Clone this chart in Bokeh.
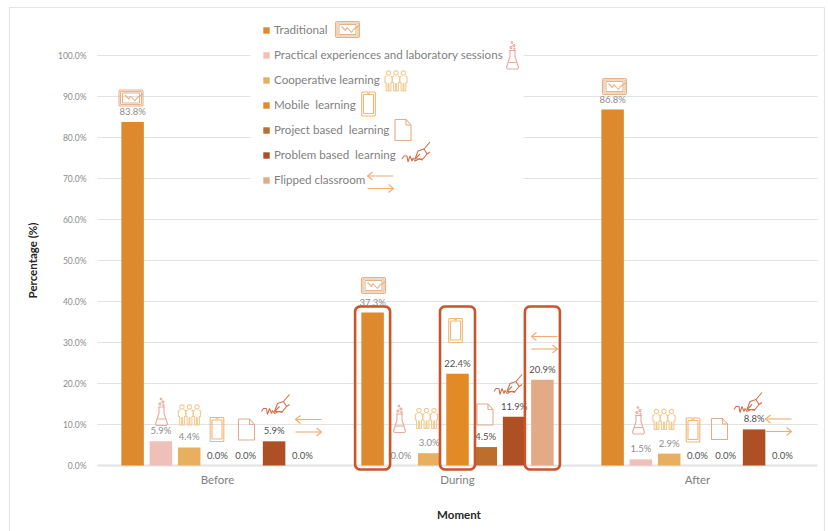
import math

from bokeh.core.properties import value
from bokeh.embed import file_html
from bokeh.models import (ColumnDataSource, FixedTicker, Legend, LegendItem,
                          NumeralTickFormatter, Range1d)
from bokeh.plotting import figure
from bokeh.resources import INLINE

# Survey results: share of each teaching method per moment
moments = ["Before", "During", "After"]
methods = ["Traditional", "Practical experiences and laboratory sessions",
           "Cooperative learning", "Mobile  learning", "Project based  learning",
           "Problem based  learning", "Flipped classroom"]
traditional = [83.8, 37.3, 86.8]
practical = [5.9, 0.0, 1.5]
cooperative = [4.4, 3.0, 2.9]
mobile = [0.0, 22.4, 0.0]
project = [0.0, 4.5, 0.0]
problem = [5.9, 11.9, 8.8]
flipped = [0.0, 20.9, 0.0]
series = [traditional, practical, cooperative, mobile, project, problem, flipped]
colors = ["#dd8a2e", "#eec0b8", "#e9af60", "#e28a25", "#bd6e2c", "#ae5024", "#e3ab85"]
y_ticks = [float(v) for v in range(0, 101, 10)]

# The frame fills the page; the plot area inside it starts at these pixels
WIDTH, HEIGHT = 828, 531
PLOT_L, ZERO_Y = 97, 465
PX_PER_GROUP = 240.0
PX_PER_PCT = 4.1
BAR_STEP = 28.3 / PX_PER_GROUP
BAR_WIDTH = 22.5 / PX_PER_GROUP

FONT = "Lato"
DARK = "#505050"
GREY = "#8c8c8c"
# Labels printed in the darker ink, as (series, moment) index pairs
dark_labels = {(5, 0), (3, 1), (4, 1), (5, 1), (6, 1), (5, 2),
               (3, 0), (4, 0), (6, 0), (3, 2), (4, 2), (6, 2)}

p = figure(width=WIDTH, height=HEIGHT, output_backend="svg", toolbar_location=None,
           x_range=Range1d(-PLOT_L / PX_PER_GROUP, (WIDTH - PLOT_L) / PX_PER_GROUP),
           y_range=Range1d((ZERO_Y - HEIGHT) / PX_PER_PCT, ZERO_Y / PX_PER_PCT),
           min_border=0, outline_line_color=None, background_fill_color="white")


def to_data(x, y):
    """Page pixel position to data coordinates."""
    return (x - PLOT_L) / PX_PER_GROUP, (ZERO_Y - y) / PX_PER_PCT


# Axes sit inside the frame at the zero positions
p.xaxis.fixed_location = 0
p.xaxis.ticker = FixedTicker(ticks=[0.5, 1.5, 2.5])
p.xaxis.major_label_overrides = {0.5: moments[0], 1.5: moments[1], 2.5: moments[2]}
p.xaxis.major_label_text_font = FONT
p.xaxis.major_label_text_font_size = "11.5px"
p.xaxis.major_label_text_color = "#7f7f7f"
p.xaxis.major_label_standoff = 1
p.xaxis.axis_line_color = None
p.xaxis.major_tick_line_color = None
p.xaxis.minor_tick_line_color = None

p.yaxis.fixed_location = 0
p.yaxis.ticker = FixedTicker(ticks=y_ticks)
p.yaxis.formatter = NumeralTickFormatter(format="0.0")
p.yaxis.major_label_overrides = {v: f"{v:.1f}%" for v in y_ticks}
p.yaxis.major_label_text_font = FONT
p.yaxis.major_label_text_font_size = "8.5px"
p.yaxis.major_label_text_color = "#8c8c8c"
p.yaxis.major_label_standoff = 5
p.yaxis.axis_line_color = None
p.yaxis.major_tick_line_color = None
p.yaxis.minor_tick_line_color = None

p.xgrid.visible = False
p.ygrid.visible = False

# Horizontal gridlines across the three groups, heavier at zero
p.segment(x0=0, x1=3, y0=y_ticks, y1=y_ticks, line_color="#e2e2e2",
          line_width=[2.0] + [1.2] * (len(y_ticks) - 1))

# Outer chart border, open at the bottom of the page
bx, by = zip(*[to_data(9, HEIGHT + 2), to_data(9, 7), to_data(824, 7), to_data(824, HEIGHT + 2)])
p.line(list(bx), list(by), line_color="#e4e4e4", line_width=1.2)

# White panel behind the key so the gridlines stop at it
key_x0, key_y0 = to_data(250, 195)
key_x1, key_y1 = to_data(523, 16)
p.quad(left=[key_x0], right=[key_x1], bottom=[key_y0], top=[key_y1],
       fill_color="white", line_color=None)

# Bars and their value labels
legend_items = []
for i, (name, vals, col) in enumerate(zip(methods, series, colors)):
    xs = [m + 0.5 + (i - 3) * BAR_STEP for m in range(len(moments))]
    src = ColumnDataSource(dict(
        x=xs, top=vals, text=[f"{v:.1f}%" for v in vals],
        ink=[DARK if (i, m) in dark_labels else GREY for m in range(len(moments))],
    ))
    bars = p.vbar(x="x", top="top", bottom=0, width=BAR_WIDTH, source=src,
                  fill_color=col, line_color=None)
    legend_items.append(LegendItem(label=name, renderers=[bars]))
    p.text(x="x", y="top", text="text", source=src, text_color="ink",
           text_font=value(FONT), text_font_size="9.5px", text_align="center",
           text_baseline="middle", y_offset=-10.5)

legend = Legend(items=legend_items, location=(262, 344), orientation="vertical",
                background_fill_alpha=0, border_line_color=None,
                padding=6, margin=0, spacing=10,
                glyph_width=8, glyph_height=8, label_height=15, label_width=230,
                label_standoff=4, label_text_font=FONT,
                label_text_font_size="11.6px", label_text_color="#7f7f7f")
p.add_layout(legend, "center")


# Pictograms, described around their own centre in pixels
def arc(cx, cy, r, a0=0, a1=360, n=12):
    return [(cx + r * math.cos(math.radians(a0 + (a1 - a0) * k / n)),
             cy + r * math.sin(math.radians(a0 + (a1 - a0) * k / n))) for k in range(n + 1)]


def box(x0, y0, x1, y1):
    return [(x0, y0), (x1, y0), (x1, y1), (x0, y1), (x0, y0)]


def rounded_box(x0, y0, x1, y1, r):
    pts = arc(x1 - r, y0 + r, r, -90, 0, 4) + arc(x1 - r, y1 - r, r, 0, 90, 4)
    pts += arc(x0 + r, y1 - r, r, 90, 180, 4) + arc(x0 + r, y0 + r, r, 180, 270, 4)
    return pts + [pts[0]]


def person(cx):
    return [arc(cx, -7.5, 2.2),
            [(cx - 2, -4.5), (cx - 3.6, -3.5), (cx - 3.6, 2), (cx - 2.4, 2), (cx - 2.4, 10.5),
             (cx - 0.4, 10.5), (cx - 0.4, 3), (cx + 0.4, 3), (cx + 0.4, 10.5), (cx + 2.4, 10.5),
             (cx + 2.4, 2), (cx + 3.6, 2), (cx + 3.6, -3.5), (cx + 2, -4.5)]]


ICONS = {
    "presentation": ("#e6b287", [
        rounded_box(-12, -8, 12, 8, 1.5), rounded_box(-10.5, -6.5, 10.5, 6.5, 1),
        box(-8.5, -5, 8.5, 5),
        [(-6, -3), (-2, 1), (-0.5, -2), (4, 3), (6, 0), (12, -4)],
    ]),
    "flask": ("#e8a99e", [
        [(-2.5, -5), (-2.5, 1), (-6, 12), (-5, 13.5), (5, 13.5), (6, 12), (2.5, 1), (2.5, -5)],
        [(-3.5, -5), (3.5, -5)], [(-4, 7), (4, 7)],
        arc(-1.5, -8, 1), arc(1.5, -10, 1), arc(-0.5, -13, 0.8), arc(2, -6.8, 0.6),
    ]),
    "people": ("#f3c98f", person(-7.5) + person(0) + person(7.5)),
    "mobile": ("#f3b578", [
        rounded_box(-6.8, -12, 6.8, 12, 1), box(-5, -9.5, 5, 9.5),
        [(-1.5, -10.8), (1.5, -10.8)],
    ]),
    "document": ("#e2ad8c", [
        [(-8, -10.5), (3, -10.5), (8, -5), (8, 10.5), (-8, 10.5), (-8, -10.5)],
        [(3, -10.5), (3, -5), (8, -5)],
    ]),
    "pen": ("#d0714b", [
        [(-14, 6), (-12, 3), (-9, 3), (-8, 9), (-6, 3), (-4, 8), (-3, 5), (-1, 8), (3, 6), (7, 7)],
        [(-1, 6), (2, -2), (8, -4), (11, 1), (7, 6), (-1, 6)],
        [(-1, 6), (4, 1)], [(8, -4), (14, -11)], [(11, 1), (14, -1)],
    ]),
    "arrows": ("#f0ad72", [
        [(13, -6.5), (-13, -6.5)], [(-8, -10.5), (-13, -6.5), (-8, -2.5)],
        [(-13, 6), (13, 6)], [(8, 2), (13, 6), (8, 10)],
    ]),
}

# Where each pictogram sits on the page: key row, then Before, During, After
ICON_PLACES = {
    "presentation": [(347, 29), (130.5, 97.5), (373, 285), (614, 86)],
    "flask": [(512, 55), (161, 411.5), (399, 418.5), (638, 420)],
    "people": [(395.5, 80), (189, 414), (426, 417.5), (663.5, 418.5)],
    "mobile": [(368, 103.5), (216.5, 429), (455, 330), (692.5, 429.5)],
    "document": [(402.5, 129.5), (246, 429), (484.5, 414), (719, 428.5)],
    "pen": [(415.5, 152.5), (275, 405), (507.5, 385), (747.5, 403)],
    "arrows": [(380, 182), (308, 425.5), (544, 342.5), (778, 425)],
}

icon_xs, icon_ys, icon_col = [], [], []
for name, places in ICON_PLACES.items():
    col, paths = ICONS[name]
    for cx, cy in places:
        for path in paths:
            pts = [to_data(cx + dx, cy + dy) for dx, dy in path]
            icon_xs.append([a for a, _ in pts])
            icon_ys.append([b for _, b in pts])
            icon_col.append(col)
p.multi_line("xs", "ys", source=ColumnDataSource(dict(xs=icon_xs, ys=icon_ys, col=icon_col)),
             line_color="col", line_width=1.1)

# Rounded frames around the three methods that stand out during the course
HIGHLIGHT_HALF_W = 17.5
hl_xs, hl_ys = [], []
for s_idx in (0, 3, 6):
    cx = PLOT_L + (1.5 + (s_idx - 3) * BAR_STEP) * PX_PER_GROUP
    pts = rounded_box(cx - HIGHLIGHT_HALF_W, 306, cx + HIGHLIGHT_HALF_W, 469, 5)
    pts = [to_data(a, b) for a, b in pts]
    hl_xs.append([a for a, _ in pts])
    hl_ys.append([b for _, b in pts])
p.multi_line(hl_xs, hl_ys, line_color="#c8552b", line_width=2.6)

# Axis titles
tx, ty = to_data(458.5, 514)
p.text(x=[tx], y=[ty], text=["Moment"], text_align="center", text_baseline="middle",
       text_font=value(FONT), text_font_size="11.5px", text_font_style="bold",
       text_color="#262626")
tx, ty = to_data(32, 260)
p.text(x=[tx], y=[ty], text=["Percentage (%)"], angle=math.pi / 2, text_align="center",
       text_baseline="middle", text_font=value(FONT), text_font_size="11.5px",
       text_font_style="bold", text_color="#262626")

open("out.html", "w").write(file_html(p, INLINE))
